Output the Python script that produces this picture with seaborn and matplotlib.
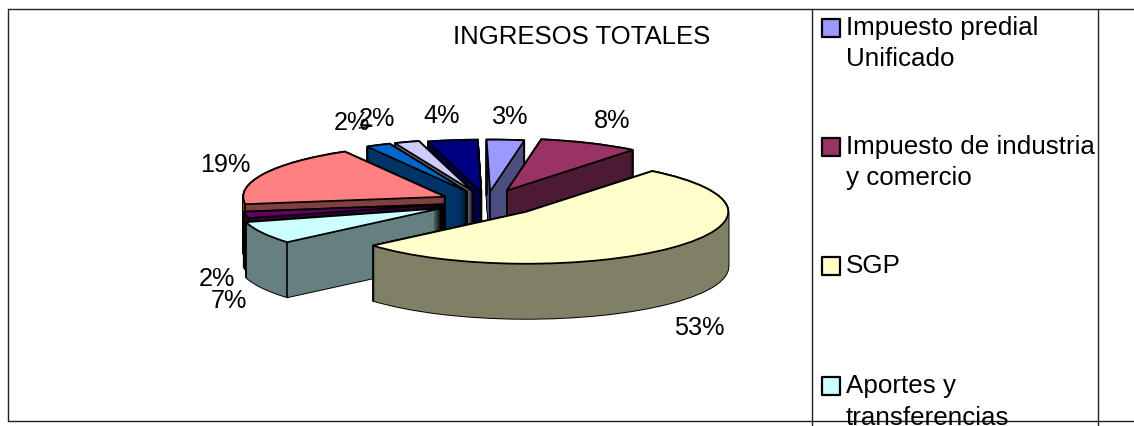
import numpy as np
import matplotlib
matplotlib.use("Agg")
import matplotlib.pyplot as plt
from matplotlib.lines import Line2D
import seaborn as sns

# ---------- data ----------
categories = ["Impuesto predial\nUnificado", "Impuesto de industria\ny comercio", "SGP",
              "Aportes y\ntransferencias", "Otros 1", "Otros 2", "Otros 3", "Otros 4", "Otros 5"]
values = [3, 8, 53, 7, 2, 19, 2, 2, 4]
title_text = "INGRESOS TOTALES"
top_colors = ["#9999FF", "#993366", "#FFFFCC", "#CCFFFF", "#660066",
              "#FF8080", "#0066CC", "#CCCCFF", "#000080"]
side_colors = ["#4D4D80", "#4D1A33", "#808066", "#668080", "#330033",
               "#804040", "#003366", "#666680", "#000040"]

# ---------- layout (pixels of the 1134x426 canvas) ----------
W, H = 1134, 426
CX, CY, RX, RY, DEPTH = 487, 202, 202, 52, 55
explode = [0.20, 0.24, 0.27, 0.26, 0.22, 0.23, 0.22, 0.22, 0.20]
paint_order = [8, 0, 7, 6, 1, 5, 4, 3, 2]
label_xy = [(510, 117), (612, 121), (699, 328), (229, 301), (217, 279),
            (225, 165), (352, 123), (377, 119), (442, 116)]
legend_y = [(28, 59), (147, 178), (266,), (386, 418)]
FONT_PX = 26

sns.set_theme(style="white")
plt.rcParams["font.family"] = ["Liberation Sans", "DejaVu Sans"]
tops = sns.color_palette(top_colors)
sides = sns.color_palette(side_colors)

fig = plt.figure(figsize=(W / 100, H / 100), dpi=100, facecolor="white")
ax = fig.add_axes([0, 0, 1, 1])
zbase = {w: 10 * (k + 1) for k, w in enumerate(paint_order)}
pie_kw = dict(startangle=91, counterclock=False, explode=explode, radius=1)
dy = DEPTH / RY

# extruded sides: outline sweep, then fill sweep
for k in np.arange(0, DEPTH + 1, 1.0):
    c = (0, -k / RY)
    outline, _ = ax.pie(values, colors=["black"] * len(values), center=c,
                        wedgeprops=dict(linewidth=1.4, edgecolor="black"), **pie_kw)
    fill, _ = ax.pie(values, colors=sides, center=c,
                     wedgeprops=dict(linewidth=0), **pie_kw)
    for i in range(len(values)):
        outline[i].set_zorder(zbase[i] + 1)
        fill[i].set_zorder(zbase[i] + 2)

# top faces
top, _ = ax.pie(values, colors=tops, center=(0, 0),
                wedgeprops=dict(linewidth=1.3, edgecolor="black"), **pie_kw)
for i, w in enumerate(top):
    w.set_zorder(zbase[i] + 4)
    path = w.get_path().transformed(w.get_patch_transform())
    cx, cy = w.center
    corners = [(cx, cy)]
    for t in (w.theta1, w.theta2):
        corners.append((cx + np.cos(np.radians(t)), cy + np.sin(np.radians(t))))
    for (px, py) in corners:
        if not path.contains_point((px, py - 0.05)):
            ax.plot([px, px], [py, py - dy], color="black", lw=1.2, zorder=zbase[i] + 3,
                    solid_capstyle="round")

ax.set_aspect("auto")
ax.set_xlim(-CX / RX, (W - CX) / RX)
ax.set_ylim((CY - H) / RY, CY / RY)
ax.set_axis_off()

# overlay in pixel coordinates
ov = fig.add_axes([0, 0, 1, 1], facecolor="none")
ov.set_xlim(0, W)
ov.set_ylim(H, 0)
ov.set_axis_off()
fs = FONT_PX * 0.72

for (x0, y0, x1, y1) in [(8, 9, W, 9), (8, 421, W, 421), (8, 9, 8, 421),
                         (812, 9, 812, H), (1098, 9, 1098, H)]:
    ov.add_line(Line2D([x0, x1], [y0, y1], color="#222222", lw=1.0))

ov.text(582, 37, title_text, ha="center", va="center", fontsize=18.5, color="black")
for v, (x, y) in zip(values, label_xy):
    ov.text(x, y, f"{v}%", ha="center", va="center", fontsize=18.2, color="black", zorder=30)
ov.add_line(Line2D([359, 372], [128, 126], color="black", lw=1.0))

for i, lines in enumerate(legend_y):
    ov.scatter([831], [lines[0]], marker="s", s=150, color=tops[i], edgecolor="black",
               linewidth=1.6, zorder=20)
    for txt, y in zip(categories[i].split("\n"), lines):
        ov.text(846, y, txt, ha="left", va="center", fontsize=fs, color="black",
                clip_on=False, zorder=25)

fig.savefig("out.png", dpi=100, facecolor="white")
